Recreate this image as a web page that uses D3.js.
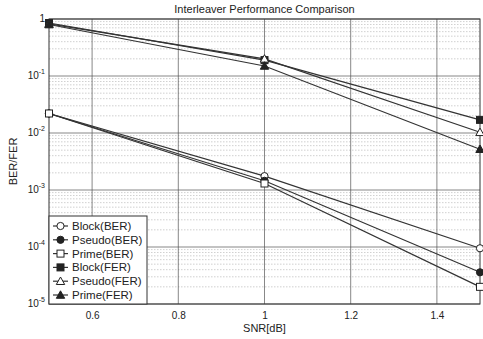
<!DOCTYPE html>
<html><head><meta charset="utf-8">
<script src="https://cdn.jsdelivr.net/npm/d3@7"></script>
<style>body{margin:0;background:#fff}svg{display:block}text{font-family:"Liberation Sans",Arial,sans-serif;fill:#222}</style>
</head><body><svg id="c" width="483" height="339"></svg>
<script>
const snr = [0.5, 1.0, 1.5];
const seriesNames = ["Block(BER)","Pseudo(BER)","Prime(BER)","Block(FER)","Pseudo(FER)","Prime(FER)"];
const blockBER  = [0.022, 0.00175, 0.000095];
const pseudoBER = [0.022, 0.00145, 0.000036];
const primeBER  = [0.022, 0.0013, 0.00002];
const blockFER  = [0.85, 0.19, 0.017];
const pseudoFER = [0.82, 0.20, 0.0103];
const primeFER  = [0.80, 0.15, 0.0052];
const xTicks = [0.6, 0.8, 1.0, 1.2, 1.4];
const xTickLabels = ["0.6","0.8","1","1.2","1.4"];
const yTickExp = [0, -1, -2, -3, -4, -5];

const allSeries = [blockBER, pseudoBER, primeBER, blockFER, pseudoFER, primeFER];
const markers = [
  {shape:"circle", fill:"#fff"},
  {shape:"circle", fill:"#222"},
  {shape:"square", fill:"#fff"},
  {shape:"square", fill:"#222"},
  {shape:"triangle", fill:"#fff"},
  {shape:"triangle", fill:"#222"}
];

const svg = d3.select("#c");
const L=49, R=480, T=19, B=304;
const x = d3.scaleLinear().domain([0.5,1.5]).range([L,R]);
const y = d3.scaleLog().domain([1e-5,1]).range([B,T]);

// minor grid (y)
const g = svg.append("g");
for (let e=-5; e<0; e++) {
  for (let m=2; m<=9; m++) {
    const v = m*Math.pow(10,e);
    g.append("line").attr("x1",L).attr("x2",R).attr("y1",y(v)).attr("y2",y(v))
      .attr("stroke","#b0b0b0").attr("stroke-width",0.6).attr("stroke-dasharray","1.5,1.5");
  }
}
// major grid
yTickExp.forEach(e=>{
  const v=Math.pow(10,e);
  g.append("line").attr("x1",L).attr("x2",R).attr("y1",y(v)).attr("y2",y(v))
    .attr("stroke","#555").attr("stroke-width",0.7);
});
xTicks.forEach(t=>{
  g.append("line").attr("x1",x(t)).attr("x2",x(t)).attr("y1",T).attr("y2",B)
    .attr("stroke","#555").attr("stroke-width",0.7);
});
// box
svg.append("rect").attr("x",L).attr("y",T).attr("width",R-L).attr("height",B-T)
  .attr("fill","none").attr("stroke","#333").attr("stroke-width",1);

// x axis labels
const xa = d3.axisBottom(x).tickValues(xTicks).tickFormat((d,i)=>xTickLabels[i]).tickSize(0).tickPadding(8);
const xg = svg.append("g").attr("transform",`translate(0,${B})`).call(xa);
xg.select(".domain").remove();
xg.selectAll("text").attr("font-size",10).style("font-family","Liberation Sans, Arial, sans-serif").attr("fill","#444");

// y axis labels with superscripts
yTickExp.forEach(e=>{
  const v=Math.pow(10,e);
  const t = svg.append("text").attr("x",L-4).attr("y",y(v)+3).attr("text-anchor","end").attr("font-size",10).attr("fill","#444");
  if (e===0) { t.text("1"); }
  else {
    t.append("tspan").text("10");
    t.append("tspan").attr("dy",-5).attr("font-size",7).text(String(e));
  }
});

// title and labels
svg.append("text").attr("x",(L+R)/2).attr("y",13).attr("text-anchor","middle").attr("font-size",11).text("Interleaver Performance Comparison");
svg.append("text").attr("x",(L+R)/2).attr("y",332).attr("text-anchor","middle").attr("font-size",11).text("SNR[dB]");
svg.append("text").attr("transform",`translate(17,${(T+B)/2}) rotate(-90)`).attr("text-anchor","middle").attr("font-size",11).text("BER/FER");

function drawMarker(sel, shape, fill, cx, cy){
  if (shape==="circle") sel.append("circle").attr("cx",cx).attr("cy",cy).attr("r",3.6).attr("fill",fill).attr("stroke","#222").attr("stroke-width",1);
  else if (shape==="square") sel.append("rect").attr("x",cx-3.5).attr("y",cy-3.5).attr("width",7).attr("height",7).attr("fill",fill).attr("stroke","#222").attr("stroke-width",1);
  else sel.append("path").attr("d",`M${cx},${cy-4.2}L${cx+4.2},${cy+3.3}L${cx-4.2},${cy+3.3}Z`).attr("fill",fill).attr("stroke","#222").attr("stroke-width",1);
}

const line = d3.line().x((d,i)=>x(snr[i])).y(d=>y(d));
const lg = svg.append("g");
allSeries.forEach((s,k)=>{
  lg.append("path").attr("d",line(s)).attr("fill","none").attr("stroke","#333").attr("stroke-width",1.2);
});
allSeries.forEach((s,k)=>{
  s.forEach((v,i)=>drawMarker(lg, markers[k].shape, markers[k].fill, x(snr[i]), y(v)));
});

// legend
const legX=49, legY=216, legW=98, legH=88;
svg.append("rect").attr("x",legX).attr("y",legY).attr("width",legW).attr("height",legH).attr("fill","#fff").attr("stroke","#333").attr("stroke-width",1);
seriesNames.forEach((n,k)=>{
  const cy = legY+10+k*13.8;
  svg.append("line").attr("x1",legX+4).attr("x2",legX+19).attr("y1",cy).attr("y2",cy).attr("stroke","#333").attr("stroke-width",1.2);
  drawMarker(svg, markers[k].shape, markers[k].fill, legX+11.5, cy);
  svg.append("text").attr("x",legX+23).attr("y",cy+4).attr("font-size",11.5).text(n);
});
</script></body></html>
